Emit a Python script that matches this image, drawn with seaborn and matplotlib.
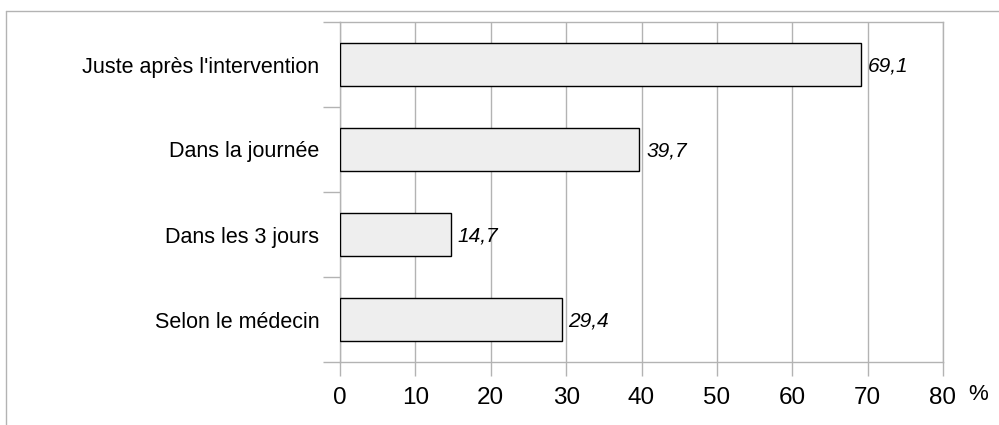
import matplotlib
matplotlib.use('Agg')
import matplotlib.pyplot as plt
import seaborn as sns
import pandas as pd
from matplotlib.lines import Line2D

categories = ["Juste après l'intervention", "Dans la journée", "Dans les 3 jours", "Selon le médecin"]
values = [69.1, 39.7, 14.7, 29.4]
value_labels = ["69,1", "39,7", "14,7", "29,4"]
x_ticks = [0, 10, 20, 30, 40, 50, 60, 70, 80]

W, H = 999, 425
GRAY = '#b3b3b3'


def main():
    sns.set_style('white')
    plt.rcParams['font.family'] = ['Liberation Sans', 'DejaVu Sans']
    plt.rcParams['text.color'] = 'black'
    plt.rcParams['xtick.labelcolor'] = 'black'
    plt.rcParams['ytick.labelcolor'] = 'black'

    df = pd.DataFrame({'categorie': categories, 'valeur': values})

    fig = plt.figure(figsize=(W / 100, H / 100), dpi=100)
    ax = fig.add_axes([340 / W, 1 - 362 / H, (943 - 340) / W, (362 - 22) / H])

    sns.barplot(data=df, x='valeur', y='categorie', orient='h', color='#eeeeee',
                edgecolor='black', linewidth=1, width=0.5, saturation=1, ax=ax, zorder=3)

    ax.set_xlim(0, 80)
    ax.set_ylim(len(categories) - 0.5, -0.5)
    ax.set_xticks(x_ticks)
    ax.set_xticklabels([str(t) for t in x_ticks], fontsize=17.5, color='black')
    ax.tick_params(axis='x', length=10, width=1, color=GRAY, pad=8, direction='out', bottom=True)

    # ticks aux limites des catégories, libellés au centre
    ax.set_yticks([i - 0.5 for i in range(len(categories) + 1)])
    ax.set_yticklabels([])
    ax.set_yticks(range(len(categories)), minor=True)
    ax.set_yticklabels(categories, minor=True, fontsize=15.5, color='black')
    ax.tick_params(axis='y', which='major', length=12, width=1, color=GRAY, direction='out', left=True)
    ax.tick_params(axis='y', which='minor', length=0, pad=15)

    ax.grid(axis='x', color=GRAY, linewidth=1, zorder=0)
    ax.grid(axis='y', visible=False)
    for s in ax.spines.values():
        s.set_visible(True)
        s.set_color(GRAY)
        s.set_linewidth(1)
    ax.set_xlabel('')
    ax.set_ylabel('')

    for i, (v, lab) in enumerate(zip(values, value_labels)):
        ax.text(v + 0.9, i + 0.02, lab, va='center', ha='left', fontsize=15,
                style='italic', color='black', zorder=4)

    fig.text(968 / W, 1 - 394 / H, '%', fontsize=16, ha='left', va='center', color='black')

    # cadre extérieur
    fig.add_artist(Line2D([6 / W, 6 / W], [1 - 11 / H, 0], color=GRAY, linewidth=1))
    fig.add_artist(Line2D([6 / W, 1], [1 - 11 / H, 1 - 11 / H], color=GRAY, linewidth=1))

    fig.savefig('out.png', dpi=100)


if __name__ == '__main__':
    main()
